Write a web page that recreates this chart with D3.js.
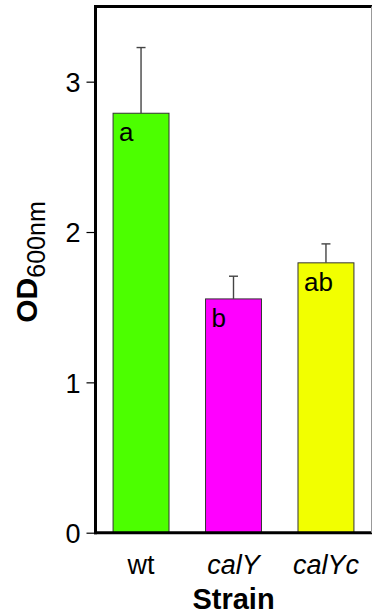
<!DOCTYPE html>
<html>
<head>
<meta charset="utf-8">
<script src="https://cdn.jsdelivr.net/npm/d3@7"></script>
<style>
  html, body { margin: 0; padding: 0; background: #fff; }
  svg { display: block; }
  text { font-family: "Liberation Sans", Arial, Helvetica, sans-serif; fill: #000; }
</style>
</head>
<body>
<script>
const categories = ["wt", "calY", "calYc"];
const italicCat = [false, true, true];
const means = [2.79, 1.555, 1.795];
const errors = [0.437, 0.151, 0.126];
const letters = ["a", "b", "ab"];
const colors = ["#4cff00", "#ff00ff", "#f2ff00"];
const yTicks = [0, 1, 2, 3];

const W = 372, H = 614;
const plotL = 95.5, plotR = 371.5, plotT = 6.5, plotB = 532.7;

const svg = d3.select("body").append("svg").attr("width", W).attr("height", H);

const x = d3.scaleBand().domain(categories).range([plotL, plotR])
  .paddingInner(0.395).paddingOuter(0.19);
const y = d3.scaleLinear().domain([0, 3.5]).range([plotB, plotT]);

// bars
svg.append("g").selectAll("rect").data(categories).join("rect")
  .attr("x", d => x(d))
  .attr("y", (d, i) => y(means[i]))
  .attr("width", x.bandwidth())
  .attr("height", (d, i) => y(0) - y(means[i]))
  .attr("fill", (d, i) => colors[i])
  .attr("stroke", "#333")
  .attr("stroke-width", 1);

// error bars
const eg = svg.append("g").attr("stroke", "#444").attr("stroke-width", 1.4);
categories.forEach((d, i) => {
  const cx = x(d) + x.bandwidth() / 2;
  eg.append("line").attr("x1", cx).attr("x2", cx)
    .attr("y1", y(means[i])).attr("y2", y(means[i] + errors[i]));
  eg.append("line").attr("x1", cx - 4.5).attr("x2", cx + 4.5)
    .attr("y1", y(means[i] + errors[i])).attr("y2", y(means[i] + errors[i]));
});

// letters in bars
svg.append("g").selectAll("text").data(categories).join("text")
  .attr("x", d => x(d) + 6)
  .attr("y", (d, i) => y(means[i]) + 28)
  .attr("font-size", 26)
  .text((d, i) => letters[i]);

// y axis ticks
const yAxis = d3.axisLeft(y).tickValues(yTicks).tickSize(9).tickPadding(6).tickFormat(d3.format("d"));
const ga = svg.append("g").attr("transform", `translate(${plotL},0)`).call(yAxis);
ga.select(".domain").remove();
ga.selectAll(".tick line").attr("stroke", "#000").attr("stroke-width", 1.2);
ga.selectAll(".tick text").attr("font-size", 27).attr("font-family", '"Liberation Sans", Arial, sans-serif')
  .attr("fill", "#000").attr("dy", "0.36em");

// frame
svg.append("line").attr("x1", plotL).attr("x2", plotL).attr("y1", plotT - 1.5).attr("y2", plotB + 1.5)
  .attr("stroke", "#000").attr("stroke-width", 3);
svg.append("line").attr("x1", plotL - 1.5).attr("x2", W).attr("y1", plotT).attr("y2", plotT)
  .attr("stroke", "#000").attr("stroke-width", 3);
svg.append("line").attr("x1", plotL - 1.5).attr("x2", W).attr("y1", plotB).attr("y2", plotB)
  .attr("stroke", "#000").attr("stroke-width", 3);
svg.append("line").attr("x1", plotR).attr("x2", plotR).attr("y1", plotT).attr("y2", plotB)
  .attr("stroke", "#999").attr("stroke-width", 1);

// x labels
svg.append("g").selectAll("text").data(categories).join("text")
  .attr("x", d => x(d) + x.bandwidth() / 2)
  .attr("y", 574)
  .attr("text-anchor", "middle")
  .attr("font-size", 27)
  .attr("font-style", (d, i) => italicCat[i] ? "italic" : "normal")
  .text(d => d);

// x title
svg.append("text").attr("x", (plotL + plotR) / 2).attr("y", 609)
  .attr("text-anchor", "middle").attr("font-size", 29).attr("font-weight", "bold")
  .text("Strain");

// y title
const yt = svg.append("text")
  .attr("transform", `translate(37, 262) rotate(-90)`)
  .attr("text-anchor", "middle");
yt.append("tspan").attr("font-size", 30).attr("font-weight", "bold").text("OD");
yt.append("tspan").attr("font-size", 25).attr("dy", 8).text("600nm");
</script>
</body>
</html>
